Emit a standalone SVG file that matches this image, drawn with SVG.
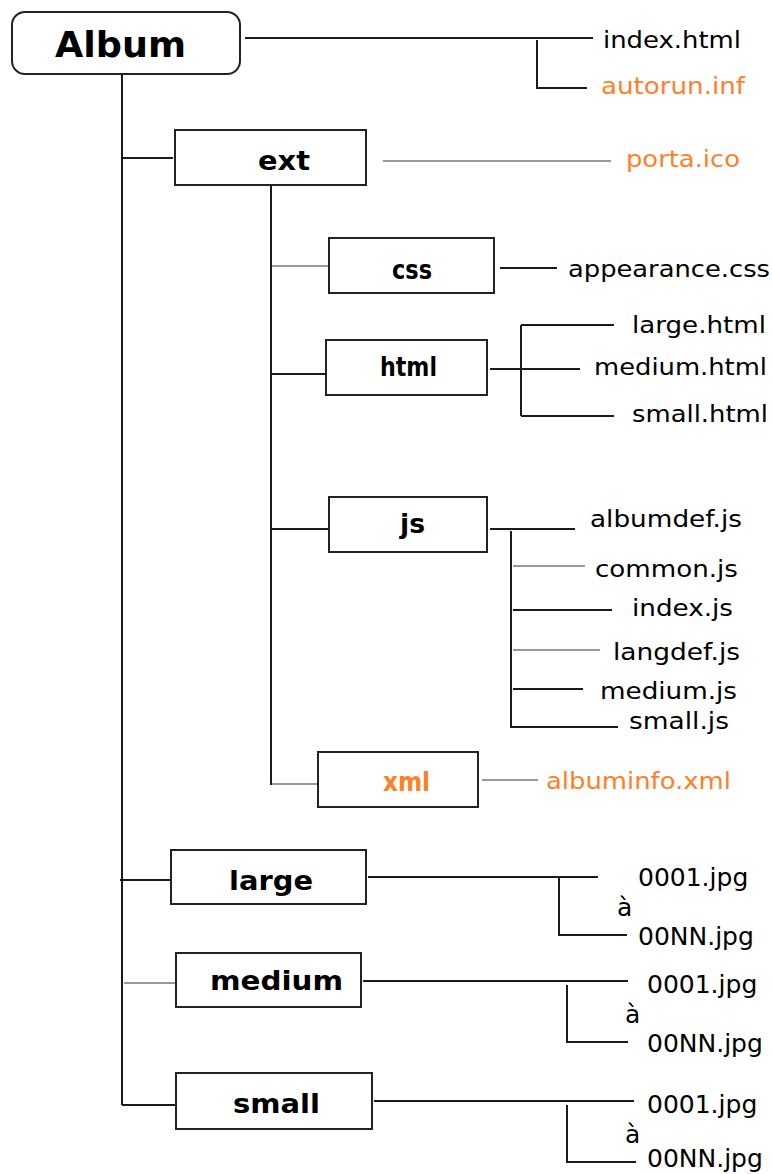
<svg xmlns="http://www.w3.org/2000/svg" width="772" height="1174" viewBox="0 0 772 1174">
<style>
.box{fill:#fff;stroke:#222;stroke-width:2}
.thick{stroke:#1a1a1a;stroke-width:2;fill:none}
.thin{stroke:#333;stroke-width:1.2;fill:none}
.lbl{font-family:"DejaVu Sans",Verdana,sans-serif;font-weight:bold;font-size:26px;fill:#000}
.f{font-family:"DejaVu Sans",Verdana,sans-serif;font-size:23px;fill:#000}
.m{font-family:"DejaVu Sans",Verdana,sans-serif;font-size:25px;fill:#000}
.o{fill:#ff7f27}
</style>
<rect width="772" height="1174" fill="#fff"/>
<g id="connectors">
<path class="thick" d="M122 75V1105"/>
<path class="thick" d="M245 38H593M537 40V88H587"/>
<path class="thick" d="M122 158H173"/>
<path class="thin" d="M383 161H611"/>
<path class="thick" d="M271 185V785"/>
<path class="thin" d="M271 266H329"/>
<path class="thick" d="M500 268H557"/>
<path class="thick" d="M271 374H330"/>
<path class="thick" d="M490 369H580M521 325V416M521 325H614M521 416H614"/>
<path class="thick" d="M271 529H328"/>
<path class="thick" d="M490 529H575M511 531V727H618"/>
<path class="thin" d="M513 566H585M513 650H600"/>
<path class="thick" d="M513 610H612M513 689H583"/>
<path class="thin" d="M271 784H322M482 780H538"/>
<path class="thick" d="M120 880H170M368 877H598M559 877V935H627"/>
<path class="thin" d="M124 983H175"/>
<path class="thick" d="M363 981H628M567 985V1042H628"/>
<path class="thick" d="M122 1105H178M374 1101H634M567 1105V1162H636"/>
</g>
<g id="album">
<rect class="box" x="12" y="12" width="228" height="62" rx="13"/>
<text x="55" y="57" font-family="DejaVu Sans,Verdana,sans-serif" font-weight="bold" font-size="36" textLength="131" lengthAdjust="spacingAndGlyphs">Album</text>
</g>
<g id="index-html"><text class="f" x="603" y="48" textLength="138" lengthAdjust="spacingAndGlyphs">index.html</text></g>
<g id="autorun-inf"><text class="f o" x="601" y="94" textLength="144" lengthAdjust="spacingAndGlyphs">autorun.inf</text></g>
<g id="ext">
<rect class="box" x="175" y="130" width="191" height="55"/>
<text class="lbl" x="258" y="170" textLength="52" lengthAdjust="spacingAndGlyphs">ext</text>
</g>
<g id="porta-ico"><text class="f o" x="626" y="167" textLength="114" lengthAdjust="spacingAndGlyphs">porta.ico</text></g>
<g id="css">
<rect class="box" x="329" y="238" width="165" height="55"/>
<text class="lbl" x="392" y="279" font-size="23" textLength="40" lengthAdjust="spacingAndGlyphs">css</text>
</g>
<g id="appearance-css"><text class="f" x="568" y="277" textLength="202" lengthAdjust="spacingAndGlyphs">appearance.css</text></g>
<g id="html">
<rect class="box" x="326" y="340" width="161" height="55"/>
<text class="lbl" x="380" y="376" font-size="25" textLength="57" lengthAdjust="spacingAndGlyphs">html</text>
</g>
<g id="large-html"><text class="f" x="632" y="333" textLength="134" lengthAdjust="spacingAndGlyphs">large.html</text></g>
<g id="medium-html"><text class="f" x="594" y="375" textLength="173" lengthAdjust="spacingAndGlyphs">medium.html</text></g>
<g id="small-html"><text class="f" x="632" y="422" textLength="136" lengthAdjust="spacingAndGlyphs">small.html</text></g>
<g id="js">
<rect class="box" x="329" y="497" width="158" height="55"/>
<text class="lbl" x="400" y="533" font-size="25" textLength="25" lengthAdjust="spacingAndGlyphs">js</text>
</g>
<g id="albumdef-js"><text class="f" x="590" y="527" textLength="152" lengthAdjust="spacingAndGlyphs">albumdef.js</text></g>
<g id="common-js"><text class="f" x="595" y="577" textLength="143" lengthAdjust="spacingAndGlyphs">common.js</text></g>
<g id="index-js"><text class="f" x="632" y="616" textLength="101" lengthAdjust="spacingAndGlyphs">index.js</text></g>
<g id="langdef-js"><text class="f" x="613" y="660" textLength="127" lengthAdjust="spacingAndGlyphs">langdef.js</text></g>
<g id="medium-js"><text class="f" x="600" y="699" textLength="137" lengthAdjust="spacingAndGlyphs">medium.js</text></g>
<g id="small-js"><text class="f" x="629" y="729" textLength="100" lengthAdjust="spacingAndGlyphs">small.js</text></g>
<g id="xml">
<rect class="box" x="318" y="752" width="160" height="55"/>
<text class="lbl o" x="383" y="791" font-size="23" textLength="47" lengthAdjust="spacingAndGlyphs">xml</text>
</g>
<g id="albuminfo-xml"><text class="f o" x="546" y="789" textLength="185" lengthAdjust="spacingAndGlyphs">albuminfo.xml</text></g>
<g id="large">
<rect class="box" x="171" y="850" width="195" height="54"/>
<text class="lbl" x="229" y="890" font-size="27" textLength="84" lengthAdjust="spacingAndGlyphs">large</text>
</g>
<g id="large-files">
<text class="m" x="638" y="886">0001.jpg</text>
<text class="m" x="617" y="916">à</text>
<text class="m" x="638" y="945">00NN.jpg</text>
</g>
<g id="medium">
<rect class="box" x="176" y="953" width="185" height="54"/>
<text class="lbl" x="210" y="990" font-size="27" textLength="133" lengthAdjust="spacingAndGlyphs">medium</text>
</g>
<g id="medium-files">
<text class="m" x="647" y="993">0001.jpg</text>
<text class="m" x="625" y="1023">à</text>
<text class="m" x="647" y="1052">00NN.jpg</text>
</g>
<g id="small">
<rect class="box" x="176" y="1073" width="196" height="56"/>
<text class="lbl" x="233" y="1113" font-size="27" textLength="87" lengthAdjust="spacingAndGlyphs">small</text>
</g>
<g id="small-files">
<text class="m" x="647" y="1113">0001.jpg</text>
<text class="m" x="625" y="1143">à</text>
<text class="m" x="647" y="1167">00NN.jpg</text>
</g>
</svg>
